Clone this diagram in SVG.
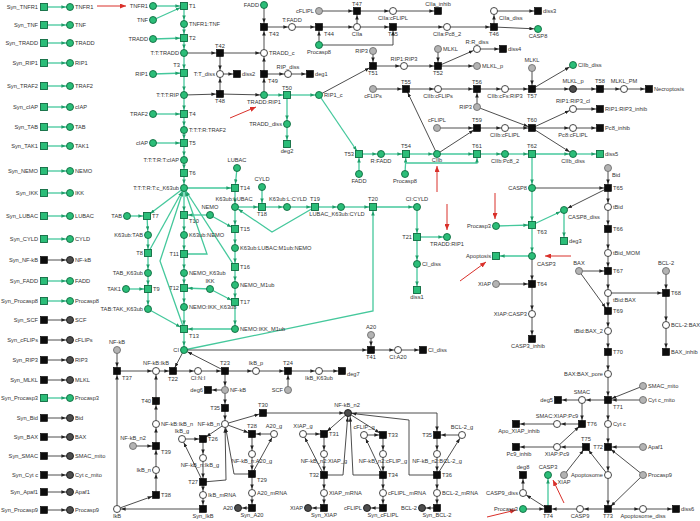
<svg xmlns="http://www.w3.org/2000/svg" width="700" height="521" viewBox="0 0 700 521">
<defs>
<style>
text{font-family:"Liberation Sans",Arial,sans-serif;font-size:5.7px;fill:#333}
.r{text-anchor:end}
.m{text-anchor:middle}
.pg,.tg{fill:#2bbd78;stroke:#106b40;stroke-width:0.9}
.pw{fill:#fff;stroke:#333;stroke-width:0.9}
.pl{fill:#b3b3b3;stroke:#6e6e6e;stroke-width:0.9}
.pd{fill:#4d4d4d;stroke:#1a1a1a;stroke-width:0.9}
.tk{fill:#0d0d0d;stroke:#000;stroke-width:0.6}
#edges-green path{fill:none;stroke:#45c89c;stroke-width:1.3;marker-end:url(#ag)}
#edges-black path{fill:none;stroke:#3a3a3a;stroke-width:0.9;marker-end:url(#ak)}
#edges-red path{fill:none;stroke:#d9302a;stroke-width:1;marker-end:url(#ar)}
</style>
<marker id="ag" viewBox="0 0 4.4 3.6" refX="8.6" refY="1.8" markerWidth="4.4" markerHeight="3.6" orient="auto" markerUnits="userSpaceOnUse"><path d="M0,0 L4.4,1.8 L0,3.6 z" fill="#1f9e6a"/></marker>
<marker id="ak" viewBox="0 0 4.4 3.6" refX="8.6" refY="1.8" markerWidth="4.4" markerHeight="3.6" orient="auto" markerUnits="userSpaceOnUse"><path d="M0,0 L4.4,1.8 L0,3.6 z" fill="#222"/></marker>
<marker id="ar" viewBox="0 0 6 5" refX="6" refY="2.5" markerWidth="6" markerHeight="5" orient="auto" markerUnits="userSpaceOnUse"><path d="M0,0 L6,2.5 L0,5 z" fill="#d9302a"/></marker>
</defs>
<rect width="700" height="521" fill="#fff"/>

<g id="connectors">
<g id="edges-green">
<path d="M47.5 7 L70 7"/><path d="M47.5 25 L70 25"/><path d="M47.5 43 L70 43"/><path d="M47.5 63 L70 63"/><path d="M47.5 86 L70 86"/><path d="M47.5 107 L70 107"/><path d="M47.5 127 L70 127"/><path d="M47.5 146 L70 146"/><path d="M47.5 171 L70 171"/><path d="M47.5 193 L70 193"/><path d="M47.5 216 L70 216"/><path d="M47.5 239 L70 239"/><path d="M47.5 281 L70 281"/><path d="M47.5 301 L70 301"/><path d="M47.5 398 L70 398"/>
<path d="M153 6 L184 6"/><path d="M153 20 L184 6"/><path d="M184 6 L184 24"/><path d="M184 24 L184 38"/><path d="M153 39 L184 38"/><path d="M184 38 L184 53"/><path d="M184 53 L184 73"/><path d="M153 74 L184 73"/><path d="M184 73 L184 95"/><path d="M184 95 L184 114"/><path d="M153 114 L184 114"/><path d="M184 114 L184 130"/><path d="M184 130 L184 143"/><path d="M153 143 L184 143"/><path d="M184 143 L184 160"/><path d="M184 160 L184 173"/><path d="M184 173 L184 188"/>
<path d="M264 95 L287 95"/><path d="M287 95 L319 95"/><path d="M287 95 L287 124"/><path d="M287 124 L287 144"/>
<path d="M319 95 L359 154"/><path d="M359 174 L359 154"/><path d="M359 154 L381 154"/><path d="M381 154 L406 154"/><path d="M405 174 L406 154"/><path d="M405 163 L477 163 L477 154"/><path d="M406 154 L437 154"/><path d="M437 154 L477 154"/><path d="M477 154 L505 154"/><path d="M505 154 L532 154"/><path d="M532 154 L573 154"/><path d="M573 154 L600 154"/><path d="M532 154 L532 188"/>
<path d="M532 188 L532 225"/><path d="M496 226 L532 225"/><path d="M532 225 L532 256"/><path d="M532 225 L564 210"/><path d="M564 210 L564 241"/><path d="M532 256 L496 256"/><path d="M548 509 L548 475"/>
<path d="M184 188 L235 188"/><path d="M237 168 L235 188"/><path d="M235 188 L235 207"/><path d="M235 207 L262 207"/><path d="M262 187 L262 207"/><path d="M262 207 L287 207"/><path d="M287 207 L315 207"/><path d="M315 207 L341 207"/><path d="M315 207 L272 232 L235 207"/><path d="M341 207 L373 207"/><path d="M184 350 L373 311 L373 207"/><path d="M373 207 L417 207"/><path d="M417 207 L417 237"/><path d="M417 237 L447 237"/><path d="M417 237 L417 264"/><path d="M417 264 L417 290"/>
<path d="M235 207 L235 229"/><path d="M210 215 L235 229"/><path d="M235 229 L235 248"/><path d="M235 248 L235 267"/><path d="M235 267 L235 285"/><path d="M235 285 L235 302"/><path d="M210 289 L235 302"/><path d="M235 302 L235 329"/><path d="M235 329 L184 329"/>
<path d="M184 188 L184 215"/><path d="M210 215 L184 215"/><path d="M184 215 L184 235"/><path d="M184 235 L184 254"/><path d="M184 254 L184 273"/><path d="M184 273 L184 288"/><path d="M210 289 L184 288"/><path d="M184 288 L184 307"/><path d="M184 307 L184 329"/><path d="M184 329 L184 350"/>
<path d="M127 216 L147 216"/><path d="M147 216 L148 235"/><path d="M148 235 L148 253"/><path d="M148 253 L148 273"/><path d="M148 273 L148 289"/><path d="M126 289 L148 289"/><path d="M148 289 L148 309"/><path d="M148 309 L184 329"/>
<path d="M184 188 L147 216"/><path d="M148 253 L184 188"/><path d="M184 329 L160 261 L184 188"/><path d="M184 254 L207 254 L184 188"/><path d="M235 267 L184 188"/>
</g>
<g id="edges-black">
<path d="M47.5 260 L70 260"/><path d="M47.5 320 L70 320"/><path d="M47.5 340 L70 340"/><path d="M47.5 360 L70 360"/><path d="M47.5 380 L70 380"/><path d="M47.5 418 L70 418"/><path d="M47.5 437 L70 437"/><path d="M47.5 456 L70 456"/><path d="M47.5 475 L70 475"/><path d="M47.5 492 L70 492"/><path d="M47.5 510 L70 510"/>
<path d="M184 53 L220 53"/><path d="M220 53 L264 53"/><path d="M220 53 L220 74"/><path d="M184 95 L220 94"/><path d="M220 94 L264 95"/><path d="M220 94 L220 74"/><path d="M220 74 L237 74"/><path d="M264 95 L264 74"/><path d="M264 74 L264 53"/><path d="M264 74 L288 74"/><path d="M288 74 L310 74"/>
<path d="M264 4 L264 27"/><path d="M264 53 L264 27"/><path d="M264 27 L292 27"/><path d="M292 27 L319 27"/><path d="M319 45 L319 27"/><path d="M319 27 L357 27"/><path d="M319 45 L393 45 L393 27"/>
<path d="M319 11 L357 11"/><path d="M357 27 L357 11"/><path d="M357 11 L393 11"/><path d="M393 11 L438 11"/><path d="M357 27 L393 27"/><path d="M393 27 L447 27"/><path d="M447 27 L494 27"/><path d="M494 27 L494 11"/><path d="M494 11 L538 11"/><path d="M494 27 L538 29"/>
<path d="M319 95 L373 66"/><path d="M373 51 L373 66"/><path d="M373 66 L404 66"/><path d="M404 66 L438 66"/><path d="M438 49 L438 66"/><path d="M438 66 L477 49"/><path d="M477 49 L503 49"/><path d="M438 66 L477 66"/>
<path d="M373 89 L406 89"/><path d="M437 154 L406 89"/><path d="M406 89 L438 89"/><path d="M438 89 L477 89"/><path d="M477 107 L477 89"/><path d="M477 89 L505 89"/><path d="M505 89 L532 89"/><path d="M532 68 L532 89"/><path d="M532 89 L573 65"/><path d="M532 89 L573 89"/><path d="M573 89 L600 89"/><path d="M600 89 L624 89"/><path d="M624 89 L649 89"/>
<path d="M437 128 L477 128"/><path d="M437 154 L477 128"/><path d="M477 128 L505 128"/><path d="M505 128 L532 128"/><path d="M477 107 L532 128"/><path d="M532 128 L573 109"/><path d="M573 109 L600 109"/><path d="M532 128 L573 128"/><path d="M573 128 L600 128"/><path d="M532 128 L573 154"/>
<path d="M532 188 L608 188"/><path d="M608 168 L608 188"/><path d="M608 188 L564 210"/><path d="M608 188 L608 207"/><path d="M608 207 L608 229"/><path d="M608 229 L608 253"/><path d="M608 253 L608 271"/><path d="M579 271 L608 271"/><path d="M608 271 L608 293"/><path d="M608 293 L666 293"/><path d="M666 271 L666 293"/><path d="M666 293 L666 325"/><path d="M666 325 L666 352"/><path d="M608 293 L608 311"/><path d="M579 271 L608 311"/><path d="M608 311 L608 331"/><path d="M608 331 L608 352"/><path d="M608 352 L608 374"/><path d="M608 374 L608 400"/>
<path d="M643 386 L608 400"/><path d="M643 400 L608 400"/><path d="M608 400 L582 400"/><path d="M582 400 L558 400"/><path d="M582 400 L582 424"/><path d="M608 400 L608 424"/><path d="M608 424 L608 447"/><path d="M643 447 L608 447"/><path d="M643 475 L608 447"/><path d="M608 447 L608 475"/><path d="M564 475 L586 447"/><path d="M608 475 L586 447"/><path d="M586 447 L557 447"/><path d="M557 447 L582 424"/><path d="M557 447 L516 447"/><path d="M582 424 L557 424"/><path d="M557 424 L516 424"/>
<path d="M608 475 L608 509"/><path d="M643 475 L608 509"/><path d="M608 509 L580 509"/><path d="M580 509 L548 509"/><path d="M608 509 L643 509"/><path d="M643 509 L676 509"/><path d="M523 509 L548 509"/><path d="M548 509 L523 493"/><path d="M523 493 L523 475"/>
<path d="M496 284 L532 284"/><path d="M532 256 L532 284"/><path d="M532 284 L532 314"/><path d="M532 314 L532 339"/>
<path d="M117 350 L117 371"/><path d="M117 509 L117 371"/><path d="M117 371 L156 371"/><path d="M156 371 L173 371"/><path d="M184 350 L173 371"/><path d="M173 371 L198 371"/><path d="M198 371 L225 371"/><path d="M225 371 L184 350"/><path d="M225 371 L256 371"/><path d="M256 371 L288 371"/><path d="M288 390 L288 371"/><path d="M288 371 L319 371"/><path d="M319 371 L342 371"/><path d="M225 371 L225 390"/><path d="M225 390 L208 390"/><path d="M225 390 L225 408"/><path d="M225 408 L225 424"/><path d="M225 424 L263 413"/><path d="M263 413 L348 413"/>
<path d="M225 424 L203 439"/><path d="M182 439 L203 439"/><path d="M203 439 L203 458"/><path d="M203 458 L203 482"/><path d="M203 482 L203 495"/><path d="M203 495 L203 509"/><path d="M203 509 L117 509"/><path d="M203 482 L182 439"/><path d="M203 482 L226 480 L225 424"/>
<path d="M225 424 L252 434"/><path d="M274 434 L252 434"/><path d="M252 434 L252 454"/><path d="M252 454 L252 474"/><path d="M252 474 L252 493"/><path d="M252 493 L252 508"/><path d="M252 508 L238 508"/><path d="M252 474 L274 434"/><path d="M252 474 L234 474 L225 424"/>
<path d="M133 446 L156 446"/><path d="M117 509 L156 495"/><path d="M156 495 L156 470"/><path d="M156 470 L156 446"/><path d="M156 446 L156 424"/><path d="M156 424 L156 401"/><path d="M156 401 L156 371"/>
<path d="M348 413 L324 434"/><path d="M303 434 L324 434"/><path d="M324 434 L324 454"/><path d="M324 454 L324 475"/><path d="M324 475 L324 493"/><path d="M324 493 L324 508"/><path d="M324 508 L308 508"/><path d="M324 475 L303 434"/><path d="M324 475 L343 475 L348 413"/>
<path d="M348 413 L383 435"/><path d="M364 435 L383 435"/><path d="M383 435 L383 454"/><path d="M383 454 L383 475"/><path d="M383 475 L383 493"/><path d="M383 493 L383 508"/><path d="M383 508 L367 508"/><path d="M383 475 L364 435"/><path d="M383 475 L353 475 L350 413"/>
<path d="M348 413 L437 413 L437 435"/><path d="M462 435 L437 435"/><path d="M437 435 L437 454"/><path d="M437 454 L437 475"/><path d="M437 475 L437 493"/><path d="M437 493 L437 508"/><path d="M437 508 L422 508"/><path d="M437 475 L462 435"/><path d="M437 475 L409 475 L409 420 L348 413"/>
<path d="M371 335 L371 350"/><path d="M184 350 L371 350"/><path d="M371 350 L398 350"/><path d="M398 350 L423 350"/>
</g>
<g id="edges-red">
<path d="M97 6 L126 6"/><path d="M230 118 L256 107"/><path d="M437 192 L437 166"/><path d="M447 204 L447 230"/><path d="M495 193 L495 219"/><path d="M460 281 L486 262"/><path d="M571 256 L545 256"/><path d="M564 503 L553 480"/><path d="M487 517 L516 510"/>
</g>
</g>

<g id="nodes">
<g id="S-TNFR1"><rect class="tg" x="40.5" y="3.5" width="7" height="7"/><text class="r" x="38" y="9">Syn_TNFR1</text></g>
<g id="L-TNFR1"><circle class="pg" cx="70" cy="7" r="3.5"/><text x="75" y="9">TNFR1</text></g>
<g id="S-TNF"><rect class="tg" x="40.5" y="21.5" width="7" height="7"/><text class="r" x="38" y="27">Syn_TNF</text></g>
<g id="L-TNF"><circle class="pg" cx="70" cy="25" r="3.5"/><text x="75" y="27">TNF</text></g>
<g id="S-TRADD"><rect class="tg" x="40.5" y="39.5" width="7" height="7"/><text class="r" x="38" y="45">Syn_TRADD</text></g>
<g id="L-TRADD"><circle class="pg" cx="70" cy="43" r="3.5"/><text x="75" y="45">TRADD</text></g>
<g id="S-RIP1"><rect class="tg" x="40.5" y="59.5" width="7" height="7"/><text class="r" x="38" y="65">Syn_RIP1</text></g>
<g id="L-RIP1"><circle class="pg" cx="70" cy="63" r="3.5"/><text x="75" y="65">RIP1</text></g>
<g id="S-TRAF2"><rect class="tg" x="40.5" y="82.5" width="7" height="7"/><text class="r" x="38" y="88">Syn_TRAF2</text></g>
<g id="L-TRAF2"><circle class="pg" cx="70" cy="86" r="3.5"/><text x="75" y="88">TRAF2</text></g>
<g id="S-cIAP"><rect class="tg" x="40.5" y="103.5" width="7" height="7"/><text class="r" x="38" y="109">Syn_cIAP</text></g>
<g id="L-cIAP"><circle class="pg" cx="70" cy="107" r="3.5"/><text x="75" y="109">cIAP</text></g>
<g id="S-TAB"><rect class="tg" x="40.5" y="123.5" width="7" height="7"/><text class="r" x="38" y="129">Syn_TAB</text></g>
<g id="L-TAB"><circle class="pg" cx="70" cy="127" r="3.5"/><text x="75" y="129">TAB</text></g>
<g id="S-TAK1"><rect class="tg" x="40.5" y="142.5" width="7" height="7"/><text class="r" x="38" y="148">Syn_TAK1</text></g>
<g id="L-TAK1"><circle class="pg" cx="70" cy="146" r="3.5"/><text x="75" y="148">TAK1</text></g>
<g id="S-NEMO"><rect class="tg" x="40.5" y="167.5" width="7" height="7"/><text class="r" x="38" y="173">Syn_NEMO</text></g>
<g id="L-NEMO"><circle class="pg" cx="70" cy="171" r="3.5"/><text x="75" y="173">NEMO</text></g>
<g id="S-IKK"><rect class="tg" x="40.5" y="189.5" width="7" height="7"/><text class="r" x="38" y="195">Syn_IKK</text></g>
<g id="L-IKK"><circle class="pg" cx="70" cy="193" r="3.5"/><text x="75" y="195">IKK</text></g>
<g id="S-LUBAC"><rect class="tg" x="40.5" y="212.5" width="7" height="7"/><text class="r" x="38" y="218">Syn_LUBAC</text></g>
<g id="L-LUBAC"><circle class="pg" cx="70" cy="216" r="3.5"/><text x="75" y="218">LUBAC</text></g>
<g id="S-CYLD"><rect class="tg" x="40.5" y="235.5" width="7" height="7"/><text class="r" x="38" y="241">Syn_CYLD</text></g>
<g id="L-CYLD"><circle class="pg" cx="70" cy="239" r="3.5"/><text x="75" y="241">CYLD</text></g>
<g id="S-NF-kB"><rect class="tk" x="40.5" y="256.5" width="7" height="7"/><text class="r" x="38" y="262">Syn_NF-kB</text></g>
<g id="L-NF-kB"><circle class="pd" cx="70" cy="260" r="3.5"/><text x="75" y="262">NF-kB</text></g>
<g id="S-FADD"><rect class="tg" x="40.5" y="277.5" width="7" height="7"/><text class="r" x="38" y="283">Syn_FADD</text></g>
<g id="L-FADD"><circle class="pg" cx="70" cy="281" r="3.5"/><text x="75" y="283">FADD</text></g>
<g id="S-Procasp8"><rect class="tg" x="40.5" y="297.5" width="7" height="7"/><text class="r" x="38" y="303">Syn_Procasp8</text></g>
<g id="L-Procasp8"><circle class="pg" cx="70" cy="301" r="3.5"/><text x="75" y="303">Procasp8</text></g>
<g id="S-SCF"><rect class="tk" x="40.5" y="316.5" width="7" height="7"/><text class="r" x="38" y="322">Syn_SCF</text></g>
<g id="L-SCF"><circle class="pd" cx="70" cy="320" r="3.5"/><text x="75" y="322">SCF</text></g>
<g id="S-cFLIPs"><rect class="tk" x="40.5" y="336.5" width="7" height="7"/><text class="r" x="38" y="342">Syn_cFLIPs</text></g>
<g id="L-cFLIPs"><circle class="pd" cx="70" cy="340" r="3.5"/><text x="75" y="342">cFLIPs</text></g>
<g id="S-RIP3"><rect class="tk" x="40.5" y="356.5" width="7" height="7"/><text class="r" x="38" y="362">Syn_RIP3</text></g>
<g id="L-RIP3"><circle class="pd" cx="70" cy="360" r="3.5"/><text x="75" y="362">RIP3</text></g>
<g id="S-MLKL"><rect class="tk" x="40.5" y="376.5" width="7" height="7"/><text class="r" x="38" y="382">Syn_MLKL</text></g>
<g id="L-MLKL"><circle class="pd" cx="70" cy="380" r="3.5"/><text x="75" y="382">MLKL</text></g>
<g id="S-Procasp3"><rect class="tg" x="40.5" y="394.5" width="7" height="7"/><text class="r" x="38" y="400">Syn_Procasp3</text></g>
<g id="L-Procasp3"><circle class="pg" cx="70" cy="398" r="3.5"/><text x="75" y="400">Procasp3</text></g>
<g id="S-Bid"><rect class="tk" x="40.5" y="414.5" width="7" height="7"/><text class="r" x="38" y="420">Syn_Bid</text></g>
<g id="L-Bid"><circle class="pd" cx="70" cy="418" r="3.5"/><text x="75" y="420">Bid</text></g>
<g id="S-BAX"><rect class="tk" x="40.5" y="433.5" width="7" height="7"/><text class="r" x="38" y="439">Syn_BAX</text></g>
<g id="L-BAX"><circle class="pd" cx="70" cy="437" r="3.5"/><text x="75" y="439">BAX</text></g>
<g id="S-SMAC"><rect class="tk" x="40.5" y="452.5" width="7" height="7"/><text class="r" x="38" y="458">Syn_SMAC</text></g>
<g id="L-SMAC"><circle class="pd" cx="70" cy="456" r="3.5"/><text x="75" y="458">SMAC_mito</text></g>
<g id="S-Cytc"><rect class="tk" x="40.5" y="471.5" width="7" height="7"/><text class="r" x="38" y="477">Syn_Cyt c</text></g>
<g id="L-Cytc"><circle class="pd" cx="70" cy="475" r="3.5"/><text x="75" y="477">Cyt c_mito</text></g>
<g id="S-Apaf1"><rect class="tk" x="40.5" y="488.5" width="7" height="7"/><text class="r" x="38" y="494">Syn_Apaf1</text></g>
<g id="L-Apaf1"><circle class="pd" cx="70" cy="492" r="3.5"/><text x="75" y="494">Apaf1</text></g>
<g id="S-Procasp9"><rect class="tk" x="40.5" y="506.5" width="7" height="7"/><text class="r" x="38" y="512">Syn_Procasp9</text></g>
<g id="L-Procasp9"><circle class="pd" cx="70" cy="510" r="3.5"/><text x="75" y="512">Procasp9</text></g>

<g id="TNFR1"><circle class="pg" cx="153" cy="6" r="3.5"/><text class="r" x="148" y="8">TNFR1</text></g>
<g id="TNF"><circle class="pg" cx="153" cy="20" r="3.5"/><text class="r" x="148" y="22">TNF</text></g>
<g id="TRADD"><circle class="pg" cx="153" cy="39" r="3.5"/><text class="r" x="148" y="41">TRADD</text></g>
<g id="RIP1"><circle class="pg" cx="153" cy="74" r="3.5"/><text class="r" x="148" y="76">RIP1</text></g>
<g id="TRAF2"><circle class="pg" cx="153" cy="114" r="3.5"/><text class="r" x="148" y="116">TRAF2</text></g>
<g id="cIAP"><circle class="pg" cx="153" cy="143" r="3.5"/><text class="r" x="148" y="145">cIAP</text></g>
<g id="T1"><rect class="tg" x="180.5" y="2.5" width="7" height="7"/><text x="189" y="8">T1</text></g>
<g id="TNFR1_TNF"><circle class="pg" cx="184" cy="24" r="3.5"/><text x="189" y="26">TNFR1:TNF</text></g>
<g id="T2"><rect class="tg" x="180.5" y="34.5" width="7" height="7"/><text x="189" y="40">T2</text></g>
<g id="T_T_TRADD"><circle class="pg" cx="184" cy="53" r="3.5"/><text class="r" x="179" y="55">T:T:TRADD</text></g>
<g id="T3"><rect class="tg" x="180.5" y="69.5" width="7" height="7"/><text class="r" x="180" y="67">T3</text></g>
<g id="T_T_T_RIP"><circle class="pg" cx="184" cy="95" r="3.5"/><text class="r" x="179" y="97">T:T:T:RIP</text></g>
<g id="T4"><rect class="tg" x="180.5" y="110.5" width="7" height="7"/><text x="189" y="116">T4</text></g>
<g id="T_T_T_R_TRAF2"><circle class="pg" cx="184" cy="130" r="3.5"/><text x="189" y="132">T:T:T:R:TRAF2</text></g>
<g id="T5"><rect class="tg" x="180.5" y="139.5" width="7" height="7"/><text x="189" y="145">T5</text></g>
<g id="T_T_T_R_T_cIAP"><circle class="pg" cx="184" cy="160" r="3.5"/><text class="r" x="179" y="162">T:T:T:R:T:cIAP</text></g>
<g id="T6"><rect class="tg" x="180.5" y="169.5" width="7" height="7"/><text x="189" y="175">T6</text></g>
<g id="c_K63ub"><circle class="pg" cx="184" cy="188" r="3.5"/><text class="r" x="179" y="190">T:T:T:R:T:c_K63ub</text></g>

<g id="T42"><rect class="tk" x="216.5" y="49.5" width="7" height="7"/><text class="m" x="220" y="48">T42</text></g>
<g id="T_T_diss"><circle class="pw" cx="220" cy="74" r="3.5"/><text class="r" x="215" y="76">T:T_diss</text></g>
<g id="diss2"><rect class="tk" x="233.5" y="70.5" width="7" height="7"/><text x="242" y="76">diss2</text></g>
<g id="T48"><rect class="tk" x="216.5" y="90.5" width="7" height="7"/><text class="m" x="220" y="103">T48</text></g>
<g id="TRADD_c"><circle class="pw" cx="264" cy="53" r="3.5"/><text x="269" y="55">TRADD_c</text></g>
<g id="TRADD_RIP1"><circle class="pg" cx="264" cy="95" r="3.5"/><text class="m" x="264" y="104">TRADD:RIP1</text></g>
<g id="T49"><rect class="tk" x="260.5" y="70.5" width="7" height="7"/><text x="268" y="83">T49</text></g>
<g id="RIP_diss"><circle class="pw" cx="288" cy="74" r="3.5"/><text class="m" x="288" y="69">RIP_diss</text></g>
<g id="deg1"><rect class="tk" x="306.5" y="70.5" width="7" height="7"/><text x="315" y="76">deg1</text></g>
<g id="FADD_t"><circle class="pg" cx="264" cy="5" r="3.5"/><text class="r" x="259" y="7">FADD</text></g>
<g id="T43"><rect class="tk" x="260.5" y="23.5" width="7" height="7"/><text x="269" y="36">T43</text></g>
<g id="T_FADD"><circle class="pw" cx="292" cy="27" r="3.5"/><text class="m" x="292" y="22">T:FADD</text></g>
<g id="T44"><rect class="tk" x="315.5" y="23.5" width="7" height="7"/><text x="324" y="36">T44</text></g>
<g id="cFLIPL_t"><circle class="pl" cx="319" cy="11" r="3.5"/><text class="r" x="314" y="13">cFLIPL</text></g>
<g id="Procasp8_t"><circle class="pg" cx="319" cy="45" r="3.5"/><text class="m" x="319" y="54">Procasp8</text></g>
<g id="T50"><rect class="tg" x="283.5" y="91.5" width="7" height="7"/><text class="m" x="287" y="90">T50</text></g>
<g id="RIP1_c"><circle class="pg" cx="319" cy="95" r="3.5"/><text x="324" y="97">RIP1_c</text></g>
<g id="TRADD_diss"><circle class="pg" cx="287" cy="124" r="3.5"/><text class="r" x="282" y="126">TRADD_diss</text></g>
<g id="deg2"><rect class="tg" x="283.5" y="140.5" width="7" height="7"/><text class="m" x="287" y="153">deg2</text></g>

<g id="T47"><rect class="tk" x="353.5" y="7.5" width="7" height="7"/><text class="m" x="357" y="6">T47</text></g>
<g id="CIIa_cFLIPL"><circle class="pw" cx="393" cy="11" r="3.5"/><text class="m" x="393" y="20">CIIa:cFLIPL</text></g>
<g id="CIIa_inhib"><rect class="tk" x="434.5" y="7.5" width="7" height="7"/><text class="m" x="438" y="6">CIIa_inhib</text></g>
<g id="CIIa"><circle class="pw" cx="357" cy="27" r="3.5"/><text class="m" x="357" y="36">CIIa</text></g>
<g id="T45"><rect class="tk" x="389.5" y="23.5" width="7" height="7"/><text class="m" x="393" y="36">T45</text></g>
<g id="CIIa_Pc8_2"><circle class="pw" cx="447" cy="27" r="3.5"/><text class="m" x="447" y="36">CIIa:Pc8_2</text></g>
<g id="T46"><rect class="tk" x="490.5" y="23.5" width="7" height="7"/><text class="m" x="494" y="36">T46</text></g>
<g id="CIIa_diss"><circle class="pw" cx="494" cy="11" r="3.5"/><text x="499" y="20">CIIa_diss</text></g>
<g id="diss3"><rect class="tk" x="534.5" y="7.5" width="7" height="7"/><text x="543" y="13">diss3</text></g>
<g id="CASP8_t"><circle class="pg" cx="538" cy="29" r="3.5"/><text class="m" x="538" y="38">CASP8</text></g>

<g id="RIP3_a"><circle class="pl" cx="373" cy="51" r="3.5"/><text class="r" x="368" y="53">RIP3</text></g>
<g id="T51"><rect class="tk" x="369.5" y="62.5" width="7" height="7"/><text class="m" x="373" y="75">T51</text></g>
<g id="RIP1_RIP3"><circle class="pw" cx="404" cy="66" r="3.5"/><text class="m" x="404" y="61">RIP1:RIP3</text></g>
<g id="T52"><rect class="tk" x="434.5" y="62.5" width="7" height="7"/><text class="m" x="438" y="75">T52</text></g>
<g id="MLKL_a"><circle class="pl" cx="438" cy="49" r="3.5"/><text x="443" y="51">MLKL</text></g>
<g id="R_R_diss"><circle class="pw" cx="477" cy="49" r="3.5"/><text class="m" x="477" y="44">R:R_diss</text></g>
<g id="diss4"><rect class="tk" x="499.5" y="45.5" width="7" height="7"/><text x="508" y="51">diss4</text></g>
<g id="MLKL_p_a"><circle class="pl" cx="477" cy="66" r="3.5"/><text x="482" y="68">MLKL_p</text></g>
<g id="cFLIPs_a"><circle class="pl" cx="373" cy="89" r="3.5"/><text class="m" x="373" y="98">cFLIPs</text></g>
<g id="T55"><rect class="tk" x="402.5" y="85.5" width="7" height="7"/><text class="m" x="406" y="84">T55</text></g>
<g id="CIIb_cFLIPs"><circle class="pw" cx="438" cy="89" r="3.5"/><text class="m" x="438" y="98">CIIb:cFLIPs</text></g>
<g id="T56"><rect class="tk" x="473.5" y="85.5" width="7" height="7"/><text class="m" x="477" y="84">T56</text></g>
<g id="CIIb_cFs_RIP3"><circle class="pw" cx="505" cy="89" r="3.5"/><text class="m" x="505" y="98">CIIb:cFs:RIP3</text></g>
<g id="RIP3_b"><circle class="pl" cx="477" cy="107" r="3.5"/><text class="r" x="472" y="109">RIP3</text></g>
<g id="T57"><rect class="tk" x="528.5" y="85.5" width="7" height="7"/><text class="m" x="532" y="98">T57</text></g>
<g id="MLKL_b"><circle class="pl" cx="532" cy="68" r="3.5"/><text class="m" x="532" y="62">MLKL</text></g>
<g id="CIIb_diss_a"><circle class="pg" cx="573" cy="65" r="3.5"/><text x="578" y="67">CIIb_diss</text></g>
<g id="MLKL_p_b"><circle class="pd" cx="573" cy="89" r="3.5"/><text class="m" x="573" y="83">MLKL_p</text></g>
<g id="T58"><rect class="tk" x="596.5" y="85.5" width="7" height="7"/><text class="m" x="600" y="83">T58</text></g>
<g id="MLKL_PM"><circle class="pw" cx="624" cy="89" r="3.5"/><text class="m" x="624" y="83">MLKL_PM</text></g>
<g id="Necroptosis"><rect class="tk" x="645.5" y="85.5" width="7" height="7"/><text x="654" y="91">Necroptosis</text></g>
<g id="cFLIPL_b"><circle class="pl" cx="437" cy="128" r="3.5"/><text class="m" x="437" y="122">cFLIPL</text></g>
<g id="T59"><rect class="tk" x="473.5" y="124.5" width="7" height="7"/><text class="m" x="477" y="122">T59</text></g>
<g id="CIIb_cFLIPL"><circle class="pw" cx="505" cy="128" r="3.5"/><text class="m" x="505" y="137">CIIb:cFLIPL</text></g>
<g id="T60"><rect class="tk" x="528.5" y="124.5" width="7" height="7"/><text class="m" x="532" y="122">T60</text></g>
<g id="RIP1_RIP3_cl"><circle class="pw" cx="573" cy="109" r="3.5"/><text class="m" x="573" y="103">RIP1:RIP3_cl</text></g>
<g id="RIP1_RIP3_inhib"><rect class="tk" x="596.5" y="105.5" width="7" height="7"/><text x="605" y="111">RIP1:RIP3_inhib</text></g>
<g id="Pc8_cFLIPL"><circle class="pw" cx="573" cy="128" r="3.5"/><text class="m" x="573" y="137">Pc8:cFLIPL</text></g>
<g id="Pc8_inhib"><rect class="tk" x="596.5" y="124.5" width="7" height="7"/><text x="605" y="130">Pc8_inhib</text></g>
<g id="T53"><rect class="tg" x="355.5" y="150.5" width="7" height="7"/><text class="r" x="354" y="156">T53</text></g>
<g id="R_FADD"><circle class="pg" cx="381" cy="154" r="3.5"/><text class="m" x="381" y="163">R:FADD</text></g>
<g id="T54"><rect class="tg" x="402.5" y="150.5" width="7" height="7"/><text class="m" x="406" y="148">T54</text></g>
<g id="CIIb"><circle class="pg" cx="437" cy="154" r="3.5"/><text class="m" x="437" y="162">CIIb</text></g>
<g id="T61"><rect class="tg" x="473.5" y="150.5" width="7" height="7"/><text class="m" x="477" y="148">T61</text></g>
<g id="CIIb_Pc8_2"><circle class="pg" cx="505" cy="154" r="3.5"/><text class="m" x="505" y="163">CIIb:Pc8_2</text></g>
<g id="T62"><rect class="tg" x="528.5" y="150.5" width="7" height="7"/><text class="m" x="532" y="148">T62</text></g>
<g id="CIIb_diss_b"><circle class="pg" cx="573" cy="154" r="3.5"/><text class="m" x="573" y="163">CIIb_diss</text></g>
<g id="diss5"><rect class="tg" x="596.5" y="150.5" width="7" height="7"/><text x="605" y="156">diss5</text></g>
<g id="FADD_b"><circle class="pg" cx="359" cy="174" r="3.5"/><text class="m" x="359" y="183">FADD</text></g>
<g id="Procasp8_b"><circle class="pg" cx="405" cy="174" r="3.5"/><text class="m" x="405" y="183">Procasp8</text></g>

<g id="TAB_b"><circle class="pg" cx="127" cy="216" r="3.5"/><text class="r" x="122" y="218">TAB</text></g>
<g id="T7"><rect class="tg" x="143.5" y="212.5" width="7" height="7"/><text x="152" y="218">T7</text></g>
<g id="K63ub_TAB"><circle class="pg" cx="148" cy="235" r="3.5"/><text class="r" x="143" y="237">K63ub:TAB</text></g>
<g id="T8"><rect class="tg" x="144.5" y="249.5" width="7" height="7"/><text class="r" x="143" y="255">T8</text></g>
<g id="TAB_K63ub"><circle class="pg" cx="148" cy="273" r="3.5"/><text class="r" x="143" y="275">TAB_K63ub</text></g>
<g id="TAK1_b"><circle class="pg" cx="126" cy="289" r="3.5"/><text class="r" x="121" y="291">TAK1</text></g>
<g id="T9"><rect class="tg" x="144.5" y="285.5" width="7" height="7"/><text x="153" y="291">T9</text></g>
<g id="TAB_TAK_K63ub"><circle class="pg" cx="148" cy="309" r="3.5"/><text class="r" x="143" y="311">TAB:TAK_K63ub</text></g>
<g id="T10"><rect class="tg" x="180.5" y="211.5" width="7" height="7"/><text x="189" y="223">T10</text></g>
<g id="NEMO_b"><circle class="pg" cx="210" cy="215" r="3.5"/><text class="m" x="210" y="209">NEMO</text></g>
<g id="K63ub_NEMO"><circle class="pg" cx="184" cy="235" r="3.5"/><text x="189" y="237">K63ub:NEMO</text></g>
<g id="T11"><rect class="tg" x="180.5" y="250.5" width="7" height="7"/><text class="r" x="179" y="256">T11</text></g>
<g id="NEMO_K63ub"><circle class="pg" cx="184" cy="273" r="3.5"/><text x="189" y="275">NEMO_K63ub</text></g>
<g id="IKK_b"><circle class="pg" cx="210" cy="289" r="3.5"/><text class="m" x="210" y="283">IKK</text></g>
<g id="T12"><rect class="tg" x="180.5" y="284.5" width="7" height="7"/><text class="r" x="179" y="290">T12</text></g>
<g id="NEMO_IKK_K63ub"><circle class="pg" cx="184" cy="307" r="3.5"/><text x="189" y="309">NEMO:IKK_K63ub</text></g>
<g id="T13"><rect class="tg" x="180.5" y="325.5" width="7" height="7"/><text x="189" y="338">T13</text></g>
<g id="CI"><circle class="pg" cx="184" cy="350" r="3.5"/><text class="r" x="179" y="352">CI</text></g>
<g id="LUBAC_b"><circle class="pg" cx="237" cy="168" r="3.5"/><text class="m" x="237" y="162">LUBAC</text></g>
<g id="T14"><rect class="tg" x="231.5" y="184.5" width="7" height="7"/><text x="240" y="190">T14</text></g>
<g id="K63ub_LUBAC"><circle class="pg" cx="235" cy="207" r="3.5"/><text class="m" x="234" y="201">K63ub:LUBAC</text></g>
<g id="T15"><rect class="tg" x="231.5" y="225.5" width="7" height="7"/><text x="240" y="231">T15</text></g>
<g id="K63ub_LUBAC_M1ub_NEMO"><circle class="pg" cx="235" cy="248" r="3.5"/><text x="240" y="250">K63ub:LUBAC:M1ub:NEMO</text></g>
<g id="T16"><rect class="tg" x="231.5" y="263.5" width="7" height="7"/><text x="240" y="269">T16</text></g>
<g id="NEMO_M1ub"><circle class="pg" cx="235" cy="285" r="3.5"/><text x="240" y="287">NEMO_M1ub</text></g>
<g id="T17"><rect class="tg" x="231.5" y="298.5" width="7" height="7"/><text x="240" y="304">T17</text></g>
<g id="NEMO_IKK_M1ub"><circle class="pg" cx="235" cy="329" r="3.5"/><text x="240" y="331">NEMO:IKK_M1ub</text></g>
<g id="CYLD_b"><circle class="pg" cx="262" cy="187" r="3.5"/><text class="m" x="262" y="181">CYLD</text></g>
<g id="T18"><rect class="tg" x="258.5" y="203.5" width="7" height="7"/><text class="m" x="262" y="216">T18</text></g>
<g id="K63ub_L_CYLD"><circle class="pg" cx="287" cy="207" r="3.5"/><text class="m" x="288" y="201">K63ub:L:CYLD</text></g>
<g id="T19"><rect class="tg" x="311.5" y="203.5" width="7" height="7"/><text class="m" x="315" y="201">T19</text></g>
<g id="LUBAC_K63ub_CYLD"><circle class="pg" cx="341" cy="207" r="3.5"/><text class="m" x="337" y="216">LUBAC_K63ub:CYLD</text></g>
<g id="T20"><rect class="tg" x="369.5" y="203.5" width="7" height="7"/><text class="m" x="373" y="201">T20</text></g>
<g id="CI_CYLD"><circle class="pg" cx="417" cy="207" r="3.5"/><text class="m" x="417" y="201">CI:CYLD</text></g>
<g id="T21"><rect class="tg" x="413.5" y="233.5" width="7" height="7"/><text class="r" x="412" y="239">T21</text></g>
<g id="TRADD_RIP1_b"><circle class="pg" cx="447" cy="237" r="3.5"/><text class="m" x="447" y="246">TRADD:RIP1</text></g>
<g id="CI_diss_g"><circle class="pg" cx="417" cy="264" r="3.5"/><text x="422" y="266">CI_diss</text></g>
<g id="diss1"><rect class="tg" x="413.5" y="286.5" width="7" height="7"/><text class="m" x="417" y="299">diss1</text></g>

<g id="Procasp3_b"><circle class="pg" cx="496" cy="226" r="3.5"/><text class="r" x="491" y="228">Procasp3</text></g>
<g id="Apoptosis"><rect class="tg" x="492.5" y="252.5" width="7" height="7"/><text class="r" x="491" y="258">Apoptosis</text></g>
<g id="XIAP_a"><circle class="pl" cx="496" cy="284" r="3.5"/><text class="r" x="491" y="286">XIAP</text></g>
<g id="CASP8_b"><circle class="pg" cx="532" cy="188" r="3.5"/><text class="r" x="527" y="190">CASP8</text></g>
<g id="T63"><rect class="tg" x="528.5" y="221.5" width="7" height="7"/><text x="537" y="234">T63</text></g>
<g id="CASP3_a"><circle class="pg" cx="532" cy="256" r="3.5"/><text x="537" y="266">CASP3</text></g>
<g id="T64"><rect class="tk" x="528.5" y="280.5" width="7" height="7"/><text x="537" y="286">T64</text></g>
<g id="XIAP_CASP3"><circle class="pw" cx="532" cy="314" r="3.5"/><text class="r" x="527" y="316">XIAP:CASP3</text></g>
<g id="CASP3_inhib"><rect class="tk" x="528.5" y="335.5" width="7" height="7"/><text class="m" x="528" y="348">CASP3_inhib</text></g>
<g id="CASP8_diss"><circle class="pg" cx="564" cy="210" r="3.5"/><text x="568" y="219">CASP8_diss</text></g>
<g id="deg3"><rect class="tg" x="560.5" y="237.5" width="7" height="7"/><text x="569" y="243">deg3</text></g>
<g id="Bid_b"><circle class="pl" cx="608" cy="168" r="3.5"/><text x="612" y="177">Bid</text></g>
<g id="T65"><rect class="tk" x="604.5" y="184.5" width="7" height="7"/><text x="613" y="190">T65</text></g>
<g id="tBid"><circle class="pw" cx="608" cy="207" r="3.5"/><text x="613" y="209">tBid</text></g>
<g id="T66"><rect class="tk" x="604.5" y="225.5" width="7" height="7"/><text x="613" y="231">T66</text></g>
<g id="tBid_MOM"><circle class="pw" cx="608" cy="253" r="3.5"/><text x="613" y="255">tBid_MOM</text></g>
<g id="T67"><rect class="tk" x="604.5" y="267.5" width="7" height="7"/><text x="613" y="273">T67</text></g>
<g id="BAX_b"><circle class="pl" cx="579" cy="271" r="3.5"/><text class="m" x="579" y="265">BAX</text></g>
<g id="tBid_BAX"><circle class="pw" cx="608" cy="293" r="3.5"/><text x="613" y="302">tBid:BAX</text></g>
<g id="T68"><rect class="tk" x="662.5" y="289.5" width="7" height="7"/><text x="671" y="295">T68</text></g>
<g id="BCL-2_b"><circle class="pl" cx="666" cy="271" r="3.5"/><text class="m" x="666" y="265">BCL-2</text></g>
<g id="BCL-2_BAX"><circle class="pw" cx="666" cy="325" r="3.5"/><text x="671" y="327">BCL-2:BAX</text></g>
<g id="BAX_inhib"><rect class="tk" x="662.5" y="348.5" width="7" height="7"/><text x="671" y="354">BAX_inhib</text></g>
<g id="T69"><rect class="tk" x="604.5" y="307.5" width="7" height="7"/><text x="613" y="313">T69</text></g>
<g id="tBid_BAX_2"><circle class="pw" cx="608" cy="331" r="3.5"/><text class="r" x="603" y="333">tBid:BAX_2</text></g>
<g id="T70"><rect class="tk" x="604.5" y="348.5" width="7" height="7"/><text x="613" y="354">T70</text></g>
<g id="BAX_BAX_pore"><circle class="pw" cx="608" cy="374" r="3.5"/><text class="r" x="603" y="376">BAX:BAX_pore</text></g>
<g id="T71"><rect class="tk" x="604.5" y="396.5" width="7" height="7"/><text x="613" y="409">T71</text></g>
<g id="SMAC_mito"><circle class="pl" cx="643" cy="386" r="3.5"/><text x="648" y="388">SMAC_mito</text></g>
<g id="Cytc_mito"><circle class="pl" cx="643" cy="400" r="3.5"/><text x="648" y="402">Cyt c_mito</text></g>
<g id="SMAC"><circle class="pw" cx="582" cy="400" r="3.5"/><text class="m" x="582" y="394">SMAC</text></g>
<g id="deg5"><rect class="tk" x="554.5" y="396.5" width="7" height="7"/><text class="r" x="553" y="402">deg5</text></g>
<g id="T76"><rect class="tk" x="578.5" y="420.5" width="7" height="7"/><text x="587" y="426">T76</text></g>
<g id="Cytc"><circle class="pw" cx="608" cy="424" r="3.5"/><text x="613" y="426">Cyt c</text></g>
<g id="SMAC_XIAP_Pc9"><circle class="pw" cx="557" cy="424" r="3.5"/><text class="m" x="557" y="418">SMAC:XIAP:Pc9</text></g>
<g id="Apo_XIAP_inhib"><rect class="tk" x="512.5" y="420.5" width="7" height="7"/><text class="m" x="519" y="433">Apo_XIAP_inhib</text></g>
<g id="XIAP_Pc9"><circle class="pw" cx="557" cy="447" r="3.5"/><text class="m" x="557" y="456">XIAP:Pc9</text></g>
<g id="Pc9_inhib"><rect class="tk" x="512.5" y="443.5" width="7" height="7"/><text class="m" x="519" y="456">Pc9_inhib</text></g>
<g id="T75"><rect class="tk" x="582.5" y="443.5" width="7" height="7"/><text class="m" x="586" y="441">T75</text></g>
<g id="T72"><rect class="tk" x="604.5" y="443.5" width="7" height="7"/><text class="r" x="603" y="449">T72</text></g>
<g id="Apaf1_b"><circle class="pl" cx="643" cy="447" r="3.5"/><text x="648" y="449">Apaf1</text></g>
<g id="Procasp9_b"><circle class="pl" cx="643" cy="475" r="3.5"/><text x="648" y="477">Procasp9</text></g>
<g id="Apoptosome"><circle class="pw" cx="608" cy="475" r="3.5"/><text class="r" x="603" y="477">Apoptosome</text></g>
<g id="XIAP_b"><circle class="pl" cx="564" cy="475" r="3.5"/><text class="m" x="564" y="484">XIAP</text></g>
<g id="CASP3_b"><circle class="pg" cx="548" cy="475" r="3.5"/><text class="m" x="548" y="469">CASP3</text></g>
<g id="T74"><rect class="tk" x="544.5" y="505.5" width="7" height="7"/><text class="m" x="548" y="518">T74</text></g>
<g id="T73"><rect class="tk" x="604.5" y="505.5" width="7" height="7"/><text class="m" x="608" y="518">T73</text></g>
<g id="CASP9"><circle class="pw" cx="580" cy="509" r="3.5"/><text class="m" x="580" y="518">CASP9</text></g>
<g id="Apoptosome_diss"><circle class="pw" cx="643" cy="509" r="3.5"/><text class="m" x="643" y="518">Apoptosome_diss</text></g>
<g id="diss6"><rect class="tk" x="672.5" y="505.5" width="7" height="7"/><text x="681" y="511">diss6</text></g>
<g id="Procasp3_c"><circle class="pg" cx="523" cy="509" r="3.5"/><text class="r" x="518" y="511">Procasp3</text></g>
<g id="CASP9_diss"><circle class="pw" cx="523" cy="493" r="3.5"/><text class="r" x="518" y="495">CASP9_diss</text></g>
<g id="deg8"><rect class="tk" x="519.5" y="471.5" width="7" height="7"/><text class="m" x="523" y="469">deg8</text></g>

<g id="NF-kB_b"><circle class="pl" cx="117" cy="350" r="3.5"/><text class="m" x="117" y="344">NF-kB</text></g>
<g id="T37"><rect class="tk" x="113.5" y="367.5" width="7" height="7"/><text x="122" y="380">T37</text></g>
<g id="NF-kB_IkB"><circle class="pw" cx="156" cy="371" r="3.5"/><text class="m" x="156" y="365">NF-kB:IkB</text></g>
<g id="T22"><rect class="tk" x="169.5" y="367.5" width="7" height="7"/><text class="m" x="173" y="381">T22</text></g>
<g id="T40"><rect class="tk" x="152.5" y="397.5" width="7" height="7"/><text class="r" x="151" y="403">T40</text></g>
<g id="NF-kB_IkB_n"><circle class="pw" cx="156" cy="424" r="3.5"/><text x="161" y="426">NF-kB:IkB_n</text></g>
<g id="NF-kB_n2_a"><circle class="pl" cx="133" cy="446" r="3.5"/><text class="m" x="133" y="440">NF-kB_n2</text></g>
<g id="T39"><rect class="tk" x="152.5" y="442.5" width="7" height="7"/><text x="161" y="454">T39</text></g>
<g id="IkB_n"><circle class="pw" cx="156" cy="470" r="3.5"/><text class="r" x="151" y="472">IkB_n</text></g>
<g id="T38"><rect class="tk" x="152.5" y="491.5" width="7" height="7"/><text x="161" y="497">T38</text></g>
<g id="IkB"><circle class="pw" cx="117" cy="509" r="3.5"/><text class="m" x="117" y="518">IkB</text></g>
<g id="CI_N_I"><circle class="pw" cx="198" cy="371" r="3.5"/><text class="m" x="198" y="380">CI:N:I</text></g>
<g id="T23"><rect class="tk" x="221.5" y="367.5" width="7" height="7"/><text class="m" x="225" y="365">T23</text></g>
<g id="IkB_p"><circle class="pw" cx="256" cy="371" r="3.5"/><text class="m" x="256" y="365">IkB_p</text></g>
<g id="T24"><rect class="tk" x="284.5" y="367.5" width="7" height="7"/><text class="m" x="288" y="365">T24</text></g>
<g id="IkB_K63ub"><circle class="pw" cx="319" cy="371" r="3.5"/><text class="m" x="319" y="380">IkB_K63ub</text></g>
<g id="deg7"><rect class="tk" x="338.5" y="367.5" width="7" height="7"/><text x="347" y="376">deg7</text></g>
<g id="SCF_b"><circle class="pl" cx="288" cy="390" r="3.5"/><text class="r" x="283" y="392">SCF</text></g>
<g id="NF-kB_c"><circle class="pl" cx="225" cy="390" r="3.5"/><text x="230" y="392">NF-kB</text></g>
<g id="deg6"><rect class="tk" x="204.5" y="386.5" width="7" height="7"/><text class="r" x="203" y="392">deg6</text></g>
<g id="T35"><rect class="tk" x="221.5" y="404.5" width="7" height="7"/><text class="r" x="220" y="410">T35</text></g>
<g id="NF-kB_n"><circle class="pw" cx="225" cy="424" r="3.5"/><text class="r" x="220" y="426">NF-kB_n</text></g>
<g id="T30"><rect class="tk" x="259.5" y="409.5" width="7" height="7"/><text class="m" x="263" y="407">T30</text></g>
<g id="NF-kB_n2"><circle class="pd" cx="348" cy="413" r="3.5"/><text class="m" x="347" y="407">NF-kB_n2</text></g>
<g id="IkB_g"><circle class="pw" cx="182" cy="439" r="3.5"/><text class="m" x="182" y="433">IkB_g</text></g>
<g id="T26"><rect class="tk" x="199.5" y="435.5" width="7" height="7"/><text x="208" y="441">T26</text></g>
<g id="NF-kB_n_IkB_g"><circle class="pw" cx="203" cy="458" r="3.5"/><text class="m" x="200" y="467">NF-kB_n:IkB_g</text></g>
<g id="T27"><rect class="tk" x="199.5" y="478.5" width="7" height="7"/><text class="r" x="198" y="484">T27</text></g>
<g id="IkB_mRNA"><circle class="pw" cx="203" cy="495" r="3.5"/><text x="208" y="497">IkB_mRNA</text></g>
<g id="Syn_IkB"><rect class="tk" x="199.5" y="505.5" width="7" height="7"/><text class="m" x="203" y="518">Syn_IkB</text></g>
<g id="T28"><rect class="tk" x="248.5" y="430.5" width="7" height="7"/><text class="m" x="252" y="428">T28</text></g>
<g id="A20_g"><circle class="pw" cx="274" cy="434" r="3.5"/><text class="m" x="274" y="428">A20_g</text></g>
<g id="NF-kB_n_A20_g"><circle class="pw" cx="252" cy="454" r="3.5"/><text class="m" x="252" y="463">NF-kB_n:A20_g</text></g>
<g id="T29"><rect class="tk" x="248.5" y="470.5" width="7" height="7"/><text x="257" y="482">T29</text></g>
<g id="A20_mRNA"><circle class="pw" cx="252" cy="493" r="3.5"/><text x="257" y="495">A20_mRNA</text></g>
<g id="Syn_A20"><rect class="tk" x="248.5" y="504.5" width="7" height="7"/><text class="m" x="252" y="517">Syn_A20</text></g>
<g id="A20_c"><circle class="pd" cx="238" cy="508" r="3.5"/><text class="r" x="233" y="510">A20</text></g>
<g id="XIAP_g"><circle class="pw" cx="303" cy="434" r="3.5"/><text class="m" x="303" y="428">XIAP_g</text></g>
<g id="T31"><rect class="tk" x="320.5" y="430.5" width="7" height="7"/><text x="329" y="436">T31</text></g>
<g id="NF-kB_n2_XIAP_g"><circle class="pw" cx="324" cy="454" r="3.5"/><text class="m" x="324" y="463">NF-kB_n2:XIAP_g</text></g>
<g id="T32"><rect class="tk" x="320.5" y="471.5" width="7" height="7"/><text class="r" x="319" y="477">T32</text></g>
<g id="XIAP_mRNA"><circle class="pw" cx="324" cy="493" r="3.5"/><text x="329" y="495">XIAP_mRNA</text></g>
<g id="Syn_XIAP"><rect class="tk" x="320.5" y="504.5" width="7" height="7"/><text class="m" x="324" y="517">Syn_XIAP</text></g>
<g id="XIAP_c"><circle class="pd" cx="308" cy="508" r="3.5"/><text class="r" x="303" y="510">XIAP</text></g>
<g id="cFLIP_g"><circle class="pw" cx="364" cy="435" r="3.5"/><text class="m" x="364" y="429">cFLIP_g</text></g>
<g id="T33"><rect class="tk" x="379.5" y="431.5" width="7" height="7"/><text x="388" y="437">T33</text></g>
<g id="NF-kB_n2_cFLIP_g"><circle class="pw" cx="383" cy="454" r="3.5"/><text class="m" x="383" y="463">NF-kB_n2:cFLIP_g</text></g>
<g id="T34"><rect class="tk" x="379.5" y="471.5" width="7" height="7"/><text x="388" y="477">T34</text></g>
<g id="cFLIPL_mRNA"><circle class="pw" cx="383" cy="493" r="3.5"/><text x="388" y="495">cFLIPL_mRNA</text></g>
<g id="Syn_cFLIPL"><rect class="tk" x="379.5" y="504.5" width="7" height="7"/><text class="m" x="383" y="517">Syn_cFLIPL</text></g>
<g id="cFLIPL_c"><circle class="pd" cx="367" cy="508" r="3.5"/><text class="r" x="362" y="510">cFLIPL</text></g>
<g id="BCL-2_g"><circle class="pw" cx="462" cy="435" r="3.5"/><text class="m" x="462" y="429">BCL-2_g</text></g>
<g id="T35b"><rect class="tk" x="433.5" y="431.5" width="7" height="7"/><text class="r" x="432" y="437">T35</text></g>
<g id="NF-kB_n2_BCL-2_g"><circle class="pw" cx="437" cy="454" r="3.5"/><text class="m" x="437" y="463">NF-kB_n2:BCL-2_g</text></g>
<g id="T36"><rect class="tk" x="433.5" y="471.5" width="7" height="7"/><text x="442" y="477">T36</text></g>
<g id="BCL-2_mRNA"><circle class="pw" cx="437" cy="493" r="3.5"/><text x="442" y="495">BCL-2_mRNA</text></g>
<g id="Syn_BCL-2"><rect class="tk" x="433.5" y="504.5" width="7" height="7"/><text class="m" x="437" y="517">Syn_BCL-2</text></g>
<g id="BCL-2_c"><circle class="pd" cx="422" cy="508" r="3.5"/><text class="r" x="417" y="510">BCL-2</text></g>
<g id="A20_a"><circle class="pl" cx="371" cy="335" r="3.5"/><text class="m" x="371" y="329">A20</text></g>
<g id="T41"><rect class="tk" x="367.5" y="346.5" width="7" height="7"/><text class="m" x="371" y="359">T41</text></g>
<g id="CI_A20"><circle class="pw" cx="398" cy="350" r="3.5"/><text class="m" x="398" y="359">CI:A20</text></g>
<g id="CI_diss_k"><rect class="tk" x="419.5" y="346.5" width="7" height="7"/><text x="428" y="352">CI_diss</text></g>
</g>
</svg>
